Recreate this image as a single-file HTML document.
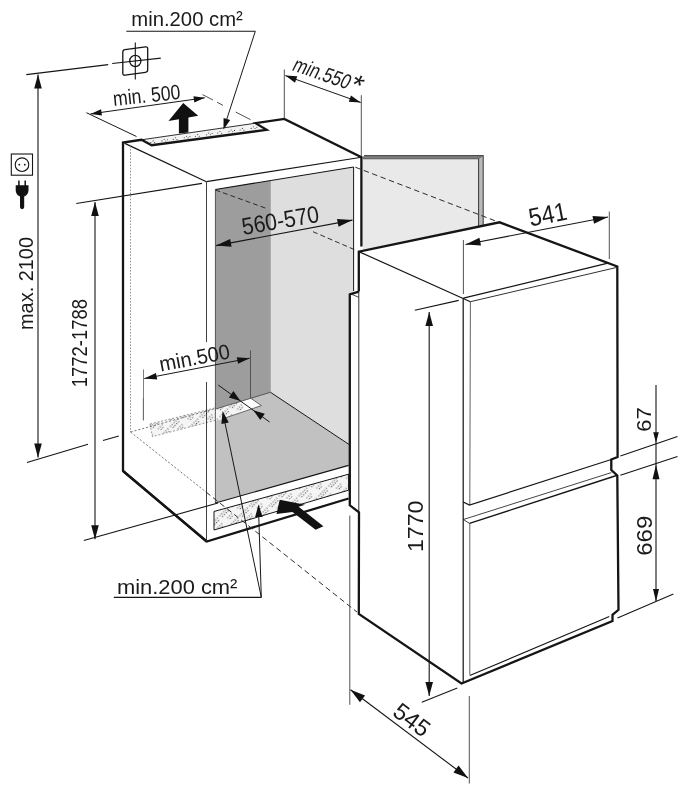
<!DOCTYPE html>
<html><head><meta charset="utf-8"><title>Installation dimensions</title>
<style>
html,body{margin:0;padding:0;background:#fff}
svg{display:block;will-change:transform}
text{font-family:"Liberation Sans",sans-serif;fill:#1a1a1a}
</style></head><body>
<svg width="691" height="795" viewBox="0 0 691 795">
<defs>
<pattern id="st" width="14" height="14" patternUnits="userSpaceOnUse" patternTransform="rotate(-45)">
<rect width="14" height="14" fill="#f5f5f5"/>
<g fill="#2a2a2a"><circle cx="1" cy="2" r="0.6"/><circle cx="3.6" cy="2" r="0.6"/><circle cx="6.2" cy="2" r="0.6"/><circle cx="8.8" cy="2" r="0.6"/><circle cx="11.4" cy="2" r="0.58"/>
<circle cx="2.3" cy="4.6" r="0.6"/><circle cx="4.9" cy="4.6" r="0.6"/><circle cx="7.5" cy="4.6" r="0.6"/><circle cx="10.1" cy="4.6" r="0.58"/>
<circle cx="5" cy="9" r="0.58"/><circle cx="7.6" cy="9" r="0.58"/><circle cx="10.2" cy="9" r="0.58"/><circle cx="6.3" cy="11.5" r="0.58"/><circle cx="8.9" cy="11.5" r="0.58"/></g></pattern>
<pattern id="st2" width="8" height="8" patternUnits="userSpaceOnUse"><rect width="8" height="8" fill="#f3f3f3"/></pattern>
</defs>
<rect width="691" height="795" fill="#fff"/>
<polygon points="215.4,189.5 270.5,180.5 270.5,392.3 215.4,409" fill="#9d9d9d" stroke="none" stroke-width="0" stroke-linejoin="miter"/>
<polygon points="270.5,180.5 353.6,167 353.6,292.5 349.8,294.4 349.8,445 270.5,392.3" fill="#dedede" stroke="none" stroke-width="0" stroke-linejoin="miter"/>
<polygon points="215.4,409 270.5,392.3 349.4,444.7 349.4,465.2 215.4,503" fill="#c1c1c1" stroke="none" stroke-width="0" stroke-linejoin="miter"/>
<polygon points="150,424 215.4,407.8 215.4,420.3 152.4,436.6" fill="url(#st)" stroke="#555" stroke-width="0.6" stroke-dasharray="2 1.8"/>
<polygon points="215.4,408.7 250.8,398.3 261.4,405.6 222,419 215.4,420.8" fill="#fff"/>
<polygon points="215.4,408.7 241,401.2 246,407.5 236,414.5 222,419 215.4,420.8" fill="url(#st)"/>
<polyline points="250.8,398.3 261.4,405.6 222,419" fill="none" stroke="#333" stroke-width="0.7"/>
<polygon points="151.7,145.2 141.5,139.8 255.6,123.2 266.6,129.8" fill="url(#st2)"/>
<polygon points="363,158 478.5,158 478.5,228 363,251" fill="#e9e9e9" stroke="none" stroke-width="0" stroke-linejoin="miter"/>
<polygon points="362,157.6 364.5,155.6 483.2,155.6 478.6,158.7 363,158.7" fill="#7d7d7d" stroke="none" stroke-width="0" stroke-linejoin="miter"/>
<polygon points="478.6,158.7 483.2,155.6 483.2,225.8 478.6,226.9" fill="#b9b9b9" stroke="none" stroke-width="0" stroke-linejoin="miter"/>
<line x1="364" y1="155.6" x2="483.6" y2="155.6" stroke="#333" stroke-width="0.88" stroke-linecap="butt"/>
<line x1="363" y1="158.8" x2="478.6" y2="158.8" stroke="#444" stroke-width="0.77" stroke-linecap="butt"/>
<line x1="483.2" y1="155.6" x2="483.2" y2="225.8" stroke="#333" stroke-width="0.99" stroke-linecap="butt"/>
<line x1="478.6" y1="158.7" x2="478.6" y2="227" stroke="#333" stroke-width="0.99" stroke-linecap="butt"/>
<line x1="478.6" y1="158.7" x2="483.2" y2="155.6" stroke="#444" stroke-width="0.66" stroke-linecap="butt"/>
<polyline points="206.7,541.5 123,471 123,142.5 141.5,139.8 151.7,145.2 266.6,129.8 255.6,123.2 284.3,118.9 361.4,157.3 361.4,246.4" fill="none" stroke="#151515" stroke-width="2.3" stroke-linejoin="miter"/>
<polyline points="123,471 206.7,541.5 348.6,498.5" fill="none" stroke="#151515" stroke-width="2.3" stroke-linejoin="miter"/>
<line x1="141.5" y1="139.8" x2="255.6" y2="123.2" stroke="#151515" stroke-width="0.88" stroke-linecap="butt"/>
<circle cx="150.9" cy="142.5" r="0.55" fill="#3a3a3a"/>
<circle cx="153.1" cy="140.9" r="0.55" fill="#3a3a3a"/>
<circle cx="154.7" cy="142.6" r="0.55" fill="#3a3a3a"/>
<circle cx="162.0" cy="140.9" r="0.55" fill="#3a3a3a"/>
<circle cx="164.2" cy="139.3" r="0.55" fill="#3a3a3a"/>
<circle cx="165.8" cy="141.0" r="0.55" fill="#3a3a3a"/>
<circle cx="167.6" cy="139.7" r="0.55" fill="#3a3a3a"/>
<circle cx="173.2" cy="139.4" r="0.55" fill="#3a3a3a"/>
<circle cx="175.4" cy="137.8" r="0.55" fill="#3a3a3a"/>
<circle cx="177.0" cy="139.5" r="0.55" fill="#3a3a3a"/>
<circle cx="184.3" cy="137.8" r="0.55" fill="#3a3a3a"/>
<circle cx="186.5" cy="136.2" r="0.55" fill="#3a3a3a"/>
<circle cx="188.1" cy="137.9" r="0.55" fill="#3a3a3a"/>
<circle cx="189.9" cy="136.6" r="0.55" fill="#3a3a3a"/>
<circle cx="195.5" cy="136.2" r="0.55" fill="#3a3a3a"/>
<circle cx="197.7" cy="134.6" r="0.55" fill="#3a3a3a"/>
<circle cx="199.3" cy="136.3" r="0.55" fill="#3a3a3a"/>
<circle cx="206.6" cy="134.7" r="0.55" fill="#3a3a3a"/>
<circle cx="208.8" cy="133.1" r="0.55" fill="#3a3a3a"/>
<circle cx="210.4" cy="134.8" r="0.55" fill="#3a3a3a"/>
<circle cx="212.2" cy="133.5" r="0.55" fill="#3a3a3a"/>
<circle cx="217.8" cy="133.1" r="0.55" fill="#3a3a3a"/>
<circle cx="220.0" cy="131.5" r="0.55" fill="#3a3a3a"/>
<circle cx="221.6" cy="133.2" r="0.55" fill="#3a3a3a"/>
<circle cx="228.9" cy="131.6" r="0.55" fill="#3a3a3a"/>
<circle cx="231.1" cy="130.0" r="0.55" fill="#3a3a3a"/>
<circle cx="232.7" cy="131.7" r="0.55" fill="#3a3a3a"/>
<circle cx="234.5" cy="130.4" r="0.55" fill="#3a3a3a"/>
<circle cx="240.1" cy="130.0" r="0.55" fill="#3a3a3a"/>
<circle cx="242.3" cy="128.4" r="0.55" fill="#3a3a3a"/>
<circle cx="243.9" cy="130.1" r="0.55" fill="#3a3a3a"/>
<circle cx="251.2" cy="128.4" r="0.55" fill="#3a3a3a"/>
<circle cx="253.4" cy="126.8" r="0.55" fill="#3a3a3a"/>
<circle cx="255.0" cy="128.5" r="0.55" fill="#3a3a3a"/>
<circle cx="256.8" cy="127.2" r="0.55" fill="#3a3a3a"/>
<line x1="124.8" y1="143.4" x2="206.4" y2="181.7" stroke="#151515" stroke-width="1.21" stroke-linecap="butt"/>
<line x1="206.4" y1="181.7" x2="360" y2="157.5" stroke="#151515" stroke-width="1.21" stroke-linecap="butt"/>
<line x1="206.5" y1="181.7" x2="206.5" y2="342" stroke="#333" stroke-width="0.94" stroke-linecap="butt"/>
<line x1="206.5" y1="382" x2="206.5" y2="541" stroke="#333" stroke-width="0.94" stroke-linecap="butt"/>
<line x1="215.4" y1="189.5" x2="215.4" y2="503" stroke="#333" stroke-width="0.77" stroke-linecap="butt"/>
<line x1="215.4" y1="189.5" x2="353.6" y2="167" stroke="#151515" stroke-width="1.1" stroke-linecap="butt"/>
<line x1="353.6" y1="167" x2="353.6" y2="291" stroke="#151515" stroke-width="0.99" stroke-linecap="butt"/>
<line x1="270.5" y1="181" x2="270.5" y2="392.3" stroke="#8a8a8a" stroke-width="0.55" stroke-linecap="butt"/>
<line x1="270.5" y1="392.3" x2="349.4" y2="444.7" stroke="#151515" stroke-width="0.99" stroke-linecap="butt"/>
<line x1="215.4" y1="409" x2="270.5" y2="392.3" stroke="#444" stroke-width="0.88" stroke-linecap="butt"/>
<line x1="215.4" y1="503" x2="348.6" y2="465.4" stroke="#151515" stroke-width="1.1" stroke-linecap="butt"/>
<polygon points="214,511.5 348.6,474.2 348.6,490.2 214,530" fill="url(#st)" stroke="#151515" stroke-width="1" stroke-linejoin="miter"/>
<line x1="130.5" y1="146" x2="130.5" y2="432" stroke="#777" stroke-width="0.77" stroke-dasharray="1.6 1.5" stroke-linecap="butt"/>
<line x1="130.5" y1="432" x2="215" y2="408.7" stroke="#555" stroke-width="0.77" stroke-dasharray="2.2 1.8" stroke-linecap="butt"/>
<line x1="130.5" y1="432" x2="206" y2="492" stroke="#555" stroke-width="0.77" stroke-dasharray="2.2 1.8" stroke-linecap="butt"/>
<line x1="143.3" y1="398" x2="143.3" y2="420.5" stroke="#777" stroke-width="0.77" stroke-linecap="butt"/>
<line x1="76.3" y1="203.5" x2="202" y2="183.4" stroke="#151515" stroke-width="1.1" stroke-linecap="butt"/>
<line x1="83.8" y1="540.5" x2="218" y2="503" stroke="#151515" stroke-width="1.1" stroke-linecap="butt"/>
<line x1="215.4" y1="190" x2="268" y2="209" stroke="#2a2a2a" stroke-width="0.99" stroke-dasharray="5 3" stroke-linecap="butt"/>
<line x1="313" y1="231.7" x2="356" y2="250.3" stroke="#2a2a2a" stroke-width="0.99" stroke-dasharray="5 3" stroke-linecap="butt"/>
<line x1="355.3" y1="167.2" x2="497" y2="221.5" stroke="#2a2a2a" stroke-width="0.99" stroke-dasharray="5.5 3.5" stroke-linecap="butt"/>
<line x1="206" y1="492" x2="357" y2="612" stroke="#2a2a2a" stroke-width="0.99" stroke-dasharray="5.5 3.5" stroke-linecap="butt"/>
<polyline points="358.8,291.6 358.8,251.6 499.6,222.3 617.3,266.5 617.6,457 611.3,459.5 611.3,470 617.3,475.5 618.5,609.8 612.5,614.8 612.5,621 461.5,683.5 358.8,613.9 359,512.3 349.8,505.3 349.8,294.4 358.8,291.6" fill="none" stroke="#151515" stroke-width="2.3" stroke-linejoin="miter"/>
<line x1="358.8" y1="251.6" x2="470.4" y2="301.7" stroke="#151515" stroke-width="1.21" stroke-linecap="butt"/>
<line x1="463.4" y1="298.2" x2="606.9" y2="263.3" stroke="#151515" stroke-width="1.32" stroke-linecap="butt"/>
<line x1="470.4" y1="301.7" x2="616" y2="267.6" stroke="#151515" stroke-width="0.88" stroke-linecap="butt"/>
<line x1="463.2" y1="298.2" x2="463.2" y2="683" stroke="#151515" stroke-width="1.21" stroke-linecap="butt"/>
<line x1="470.4" y1="301.7" x2="469.8" y2="505.1" stroke="#333" stroke-width="0.77" stroke-linecap="butt"/>
<line x1="469.8" y1="523.4" x2="469.8" y2="674.8" stroke="#333" stroke-width="0.77" stroke-linecap="butt"/>
<polyline points="463.2,502 469.5,505.1 611.3,459.5" fill="none" stroke="#151515" stroke-width="1.2" stroke-linejoin="miter"/>
<polyline points="469.5,523.4 463.4,519.5 611.3,472.6" fill="none" stroke="#151515" stroke-width="0.8" stroke-linejoin="miter"/>
<line x1="469.5" y1="523.4" x2="616.5" y2="475.5" stroke="#151515" stroke-width="1.32" stroke-linecap="butt"/>
<line x1="469.8" y1="675.6" x2="609.3" y2="616.4" stroke="#151515" stroke-width="1.1" stroke-linecap="butt"/>
<line x1="358.8" y1="291.6" x2="358.8" y2="511" stroke="#151515" stroke-width="0.88" stroke-linecap="butt"/>
<line x1="351.8" y1="294.4" x2="358.8" y2="297.3" stroke="#151515" stroke-width="0.77" stroke-linecap="butt"/>
<line x1="26.3" y1="74.6" x2="108.2" y2="64.6" stroke="#151515" stroke-width="1.1" stroke-linecap="butt"/>
<line x1="112.2" y1="63.5" x2="160.8" y2="58.1" stroke="#151515" stroke-width="1.21" stroke-linecap="butt"/>
<line x1="38" y1="74.6" x2="38" y2="457.5" stroke="#151515" stroke-width="1.1" stroke-linecap="butt"/>
<polygon points="38.00,74.60 41.80,88.60 34.20,88.60" fill="#111"/>
<polygon points="38.00,457.50 34.20,443.50 41.80,443.50" fill="#111"/>
<line x1="27" y1="462.5" x2="88" y2="444.3" stroke="#151515" stroke-width="1.1" stroke-linecap="butt"/>
<line x1="103" y1="440.5" x2="118.8" y2="436" stroke="#151515" stroke-width="1.1" stroke-linecap="butt"/>
<line x1="95" y1="202" x2="95" y2="539.3" stroke="#151515" stroke-width="1.1" stroke-linecap="butt"/>
<polygon points="95.00,202.00 98.80,216.00 91.20,216.00" fill="#111"/>
<polygon points="95.00,539.30 91.20,525.30 98.80,525.30" fill="#111"/>
<path d="M125 49.6 L145.5 46.9 Q147.7 46.6 147.7 48.8 L147.7 69.8 Q147.7 72 145.5 72.3 L125 75.2 Q122.8 75.5 122.8 73.3 L122.8 52 Q122.8 49.9 125 49.6Z" fill="none" stroke="#151515" stroke-width="1.3"/>
<circle cx="135.3" cy="61" r="5.6" fill="none" stroke="#151515" stroke-width="1.3"/>
<line x1="135.3" y1="42.5" x2="135.3" y2="79.6" stroke="#151515" stroke-width="1.1" stroke-linecap="butt"/>
<rect x="11.3" y="154" width="21.2" height="21.2" fill="none" stroke="#151515" stroke-width="1.1"/>
<circle cx="22" cy="164.7" r="6.8" fill="none" stroke="#151515" stroke-width="1.1"/>
<circle cx="19.3" cy="164.7" r="0.9" fill="#151515"/><circle cx="24.8" cy="164.7" r="0.9" fill="#151515"/>
<path d="M18.9 180.4v5.5 M25.2 180.4v5.5" stroke="#111" stroke-width="1.5" fill="none"/>
<path d="M15.7 185.2h12.8v5q0 4.3 -4.3 6.3v10.6a2.1 2.1 0 0 1 -4.2 0v-10.6q-4.3 -2 -4.3 -6.3z" fill="#111"/>
<line x1="126.3" y1="31.3" x2="255.3" y2="31.3" stroke="#151515" stroke-width="1.1" stroke-linecap="butt"/>
<line x1="255.3" y1="31.3" x2="226.2" y2="121" stroke="#151515" stroke-width="0.99" stroke-linecap="butt"/>
<polygon points="223.50,129.50 223.56,117.96 230.22,120.11" fill="#111"/>
<line x1="86.4" y1="112.7" x2="136.5" y2="136.5" stroke="#151515" stroke-width="0.99" stroke-linecap="butt"/>
<line x1="202.5" y1="94.6" x2="213" y2="100" stroke="#3a3a3a" stroke-width="0.88" stroke-linecap="butt"/>
<line x1="217" y1="102.2" x2="223" y2="105.4" stroke="#3a3a3a" stroke-width="0.88" stroke-linecap="butt"/>
<line x1="235.6" y1="112" x2="250.6" y2="119.7" stroke="#3a3a3a" stroke-width="0.88" stroke-linecap="butt"/>
<line x1="90.6" y1="113.9" x2="204.8" y2="97.8" stroke="#151515" stroke-width="0.99" stroke-linecap="butt"/>
<polygon points="90.60,113.90 101.05,109.20 101.94,115.53" fill="#111"/>
<polygon points="204.80,97.80 194.35,102.50 193.46,96.17" fill="#111"/>
<polygon points="183.2,103 198.2,115.7 188.4,117.4 188.4,132.5 178.9,133.6 178.9,119.2 168.5,121" fill="#111"/>
<line x1="284.3" y1="69.5" x2="284.3" y2="118.5" stroke="#3a3a3a" stroke-width="0.88" stroke-linecap="butt"/>
<line x1="361.3" y1="95.2" x2="361.3" y2="156" stroke="#3a3a3a" stroke-width="0.88" stroke-linecap="butt"/>
<line x1="285.3" y1="75.6" x2="360.7" y2="102.5" stroke="#151515" stroke-width="0.99" stroke-linecap="butt"/>
<polygon points="285.30,75.60 297.27,76.26 294.99,82.67" fill="#111"/>
<polygon points="360.70,102.50 348.73,101.84 351.01,95.43" fill="#111"/>
<line x1="216.1" y1="245.6" x2="352.5" y2="220.1" stroke="#151515" stroke-width="1.1" stroke-linecap="butt"/>
<polygon points="216.10,245.60 230.11,238.91 231.58,246.78" fill="#111"/>
<polygon points="352.50,220.10 338.49,226.79 337.02,218.92" fill="#111"/>
<line x1="143.5" y1="369.4" x2="143.5" y2="420.3" stroke="#5a5a5a" stroke-width="0.77" stroke-linecap="butt"/>
<line x1="250.5" y1="350.4" x2="250.5" y2="398" stroke="#444" stroke-width="0.83" stroke-linecap="butt"/>
<line x1="144.3" y1="378.6" x2="249.7" y2="358.2" stroke="#151515" stroke-width="0.99" stroke-linecap="butt"/>
<polygon points="144.30,378.60 155.95,372.98 157.20,379.46" fill="#111"/>
<polygon points="249.70,358.20 238.05,363.82 236.80,357.34" fill="#111"/>
<line x1="218.2" y1="385" x2="269.6" y2="422" stroke="#151515" stroke-width="0.99" stroke-linecap="butt"/>
<polygon points="240.50,401.00 228.88,397.46 233.43,391.12" fill="#111"/>
<polygon points="253.20,410.20 264.82,413.74 260.27,420.08" fill="#111"/>
<line x1="113.8" y1="597.4" x2="261.3" y2="597.4" stroke="#151515" stroke-width="1.1" stroke-linecap="butt"/>
<line x1="261.3" y1="597.4" x2="225" y2="423" stroke="#151515" stroke-width="0.99" stroke-linecap="butt"/>
<polygon points="222.60,411.00 228.77,422.50 221.42,424.00" fill="#111"/>
<line x1="261.3" y1="597.4" x2="258.8" y2="517" stroke="#151515" stroke-width="0.99" stroke-linecap="butt"/>
<polygon points="258.50,504.50 262.62,516.88 255.13,517.11" fill="#111"/>
<polygon points="279.7,499.8 305.1,504.7 298.6,506.7 323.4,526.2 315.6,529.8 292.5,512 276.5,514.1" fill="#111"/>
<line x1="463.4" y1="240" x2="463.4" y2="294" stroke="#3a3a3a" stroke-width="0.88" stroke-linecap="butt"/>
<line x1="609.3" y1="211.5" x2="609.3" y2="259" stroke="#3a3a3a" stroke-width="0.88" stroke-linecap="butt"/>
<line x1="465.5" y1="244.5" x2="608" y2="217" stroke="#151515" stroke-width="1.1" stroke-linecap="butt"/>
<polygon points="465.50,244.50 479.47,237.73 480.99,245.59" fill="#111"/>
<polygon points="608.00,217.00 594.03,223.77 592.51,215.91" fill="#111"/>
<line x1="414.8" y1="310.3" x2="458.7" y2="300.4" stroke="#151515" stroke-width="1.1" stroke-linecap="butt"/>
<line x1="429.2" y1="312" x2="429.2" y2="696" stroke="#151515" stroke-width="1.1" stroke-linecap="butt"/>
<polygon points="429.20,312.00 433.00,326.00 425.40,326.00" fill="#111"/>
<polygon points="429.20,696.00 425.40,682.00 433.00,682.00" fill="#111"/>
<line x1="421.8" y1="702.3" x2="457.3" y2="688" stroke="#151515" stroke-width="1.1" stroke-linecap="butt"/>
<line x1="620.4" y1="456.1" x2="677.5" y2="436.5" stroke="#151515" stroke-width="1.1" stroke-linecap="butt"/>
<line x1="620.4" y1="475.2" x2="677.5" y2="456.4" stroke="#151515" stroke-width="1.1" stroke-linecap="butt"/>
<line x1="656" y1="385" x2="656" y2="601" stroke="#151515" stroke-width="1.1" stroke-linecap="butt"/>
<polygon points="656.00,442.70 653.20,432.20 658.80,432.20" fill="#111"/>
<polygon points="656.00,464.70 659.50,479.20 652.50,479.20" fill="#111"/>
<polygon points="656.00,601.50 653.00,589.00 659.00,589.00" fill="#111"/>
<line x1="617.5" y1="618" x2="673.4" y2="594" stroke="#151515" stroke-width="1.1" stroke-linecap="butt"/>
<line x1="349.8" y1="515.5" x2="349.8" y2="704.8" stroke="#3a3a3a" stroke-width="0.88" stroke-linecap="butt"/>
<line x1="469.3" y1="696" x2="469.3" y2="783.5" stroke="#3a3a3a" stroke-width="0.88" stroke-linecap="butt"/>
<line x1="350.5" y1="689.8" x2="468" y2="778" stroke="#151515" stroke-width="1.1" stroke-linecap="butt"/>
<polygon points="350.50,689.80 365.05,695.41 359.94,702.20" fill="#111"/>
<polygon points="468.00,778.00 453.45,772.39 458.56,765.60" fill="#111"/>
<text x="0" y="0" font-size="20.3" textLength="111.5" lengthAdjust="spacingAndGlyphs" transform="translate(131.3 26.3) rotate(0)">min.200 cm²</text>
<text x="0" y="0" font-size="21" textLength="67.5" lengthAdjust="spacingAndGlyphs" transform="translate(113.8 105.9) rotate(-6)">min. 500</text>
<text x="0" y="0" font-size="21" transform="translate(291 70) rotate(19) skewX(-8)"><tspan textLength="59.3" lengthAdjust="spacingAndGlyphs">min.550</tspan> <tspan x="60.4" y="2.5" font-size="29">*</tspan></text>
<text x="0" y="0" font-size="24" textLength="78" lengthAdjust="spacingAndGlyphs" transform="translate(243.3 234.9) rotate(-9.7)">560-570</text>
<text x="0" y="0" font-size="25.5" textLength="38.5" lengthAdjust="spacingAndGlyphs" transform="translate(530.6 226.6) rotate(-11)">541</text>
<text x="0" y="0" font-size="20.3" textLength="93" lengthAdjust="spacingAndGlyphs" transform="translate(32.8 330) rotate(-90)">max. 2100</text>
<text x="0" y="0" font-size="21.3" textLength="88.3" lengthAdjust="spacingAndGlyphs" transform="translate(87.2 387.3) rotate(-90)">1772-1788</text>
<text x="0" y="0" font-size="21" textLength="71.5" lengthAdjust="spacingAndGlyphs" transform="translate(160.8 371.6) rotate(-10.8)">min.500</text>
<text x="0" y="0" font-size="20.3" textLength="120.5" lengthAdjust="spacingAndGlyphs" transform="translate(116.9 593.8) rotate(0)">min.200 cm²</text>
<text x="0" y="0" font-size="21.5" textLength="51.5" lengthAdjust="spacingAndGlyphs" transform="translate(423.3 552.0) rotate(-90)">1770</text>
<text x="0" y="0" font-size="20" textLength="24.5" lengthAdjust="spacingAndGlyphs" transform="translate(651.3 431.8) rotate(-90)">67</text>
<text x="0" y="0" font-size="21.3" textLength="40.2" lengthAdjust="spacingAndGlyphs" transform="translate(652.2 555.8) rotate(-90)">669</text>
<text x="0" y="0" font-size="23.5" transform="translate(391.3 714.6) rotate(37)">545</text>
</svg>
</body></html>
